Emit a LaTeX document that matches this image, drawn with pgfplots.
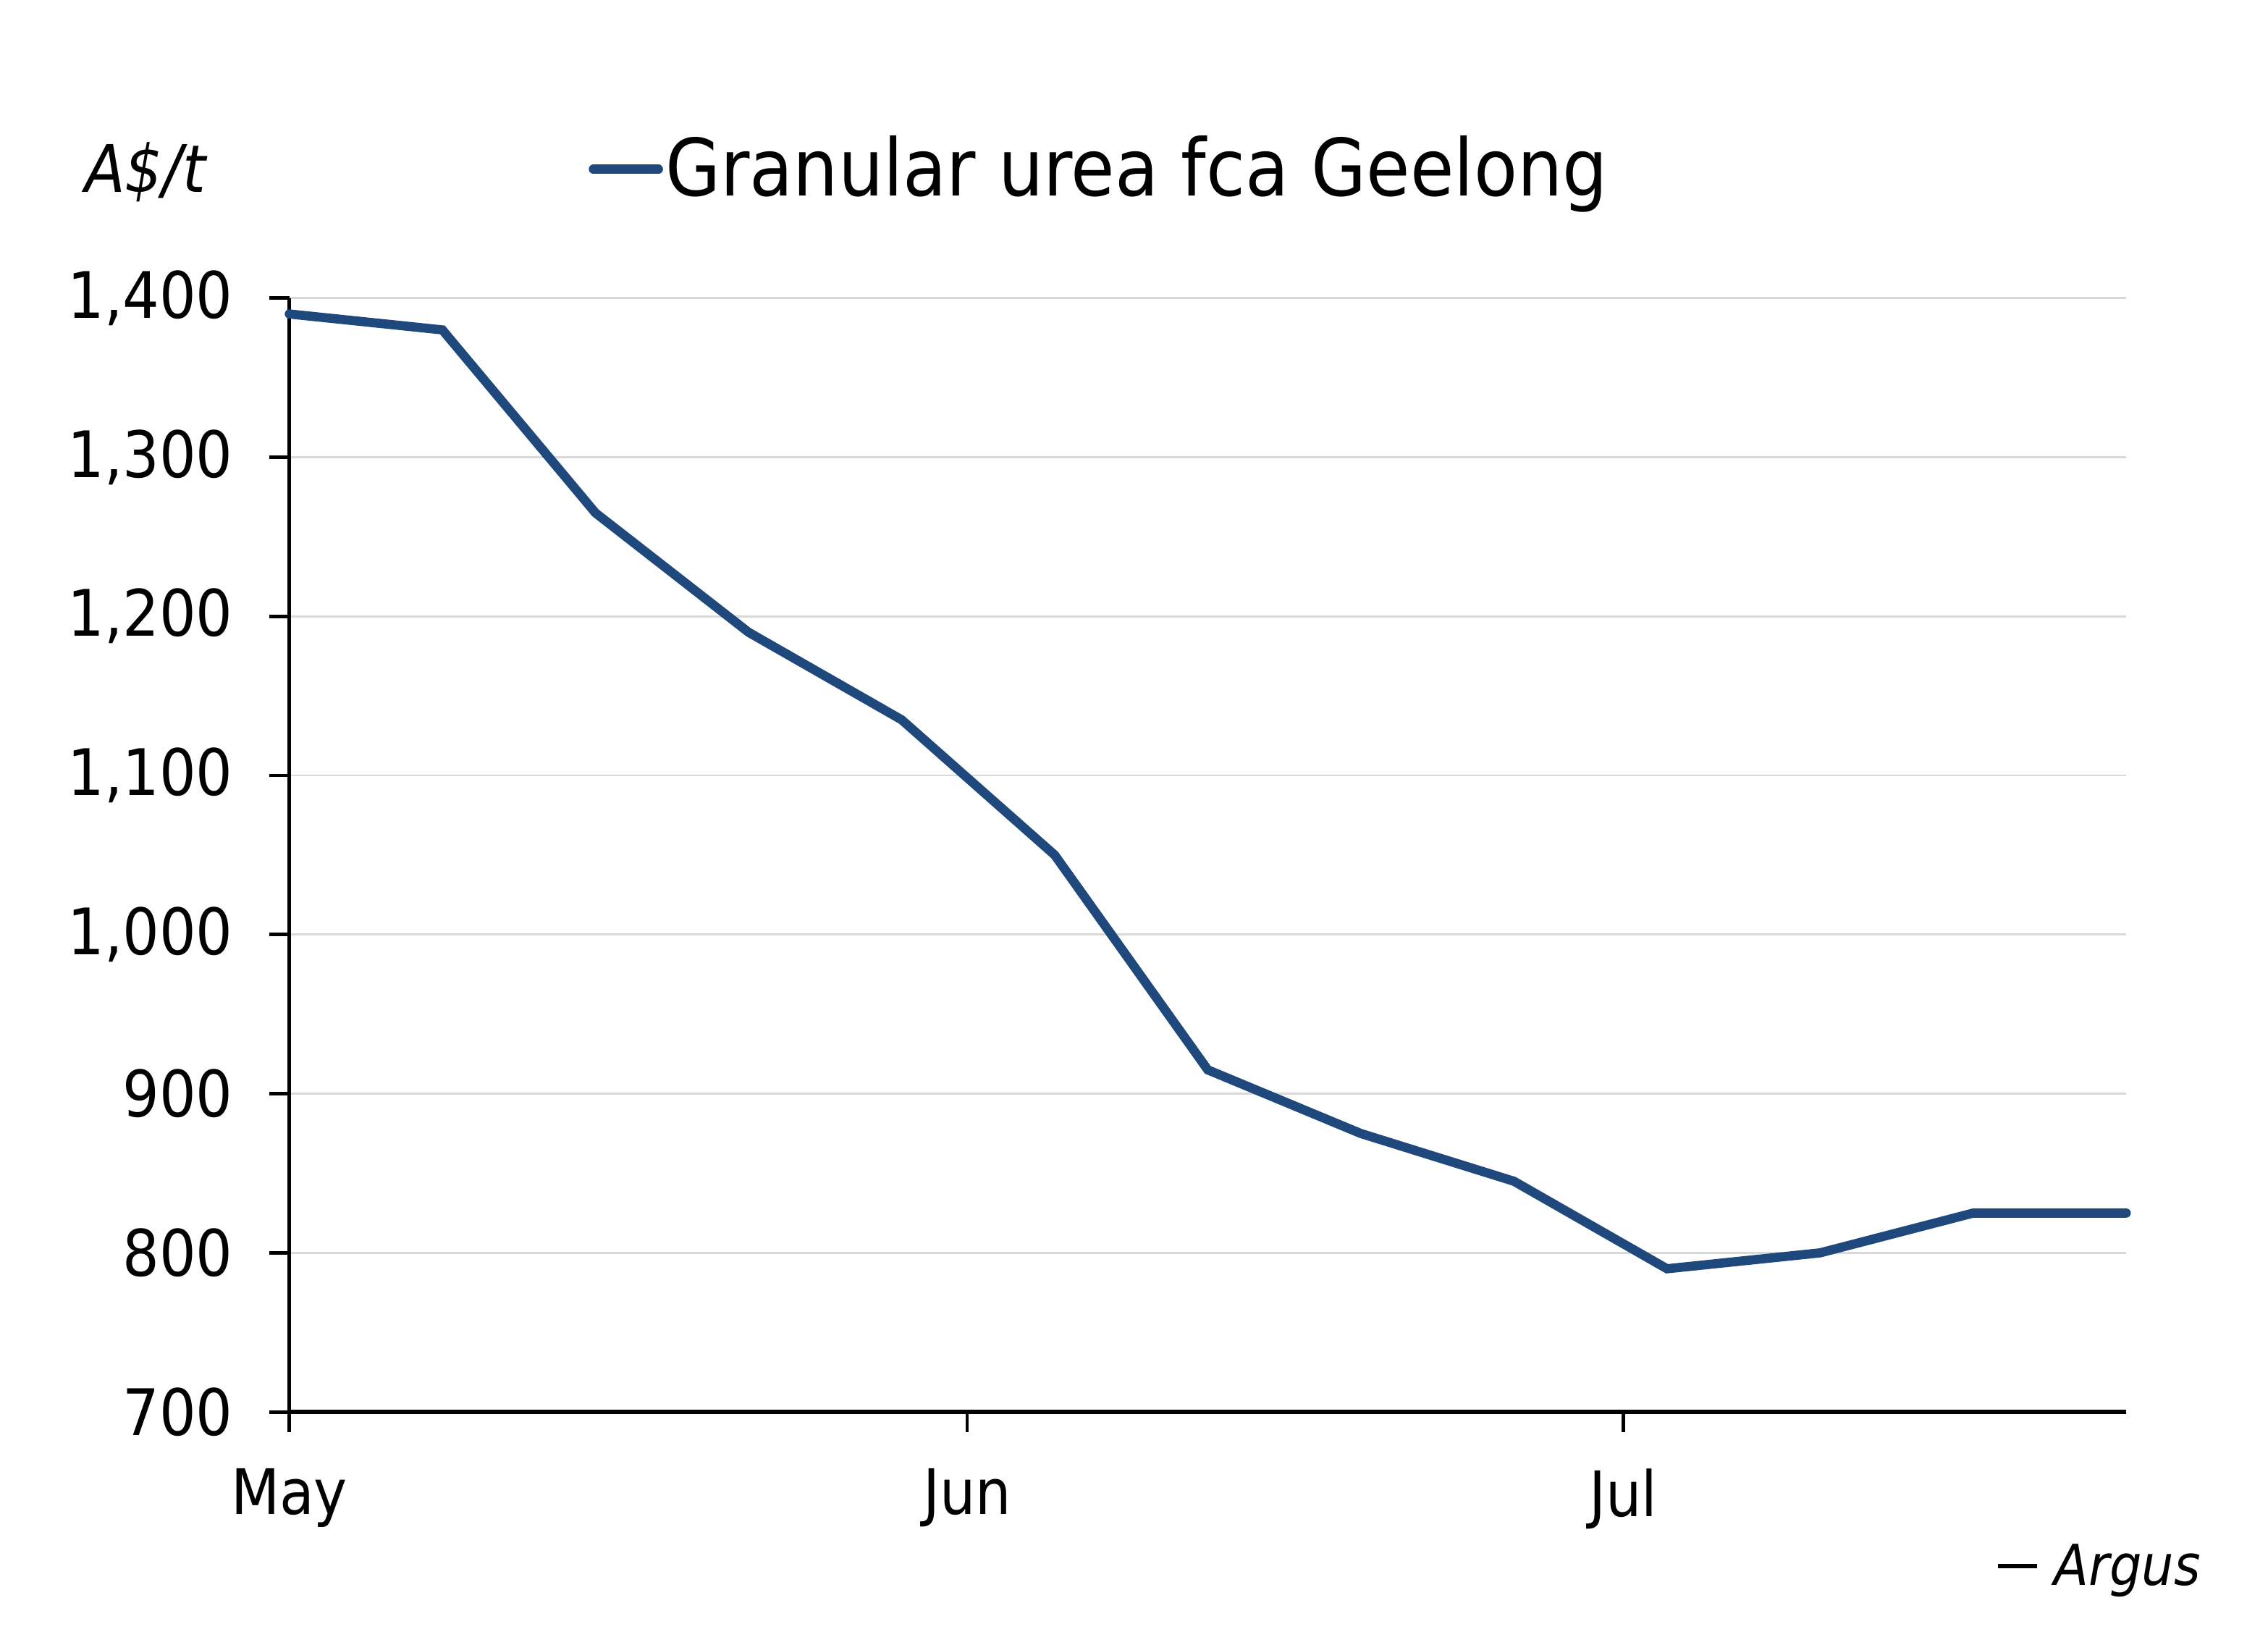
\documentclass[border=0pt]{standalone}
\usepackage{fontspec}
\setmainfont{DejaVu Sans Condensed}
\usepackage{pgfplots}
\pgfplotsset{compat=1.18}
\definecolor{argusblue}{RGB}{31,73,125}
\definecolor{gridgray}{RGB}{217,217,217}
\begin{document}
\begin{tikzpicture}
\path[use as bounding box] (0,0) rectangle (470.4pt,341.1pt);
\begin{axis}[
  scale only axis,
  width=381pt, height=231pt,
  at={(60pt,48.3pt)}, anchor=south west,
  xmin=0, xmax=84, ymin=700, ymax=1400,
  axis x line*=bottom, axis y line*=left,
  x axis line style={line width=1.0pt, -},
  y axis line style={line width=0.8pt, -},
  xtick={0,31,61}, xticklabels={May,Jun,Jul},
  ytick={700,800,...,1400},
  tick align=outside, major tick length=4.2pt,
  tick style={black, line width=0.7pt},
  ymajorgrids, grid style={gridgray, line width=0.4pt},
  /pgf/number format/assume math mode=true,
  /pgf/number format/1000 sep={,},
  tick label style={font=\fontsize{13.3}{15}\selectfont},
  xticklabel style={font=\fontsize{13}{15}\selectfont, yshift=-4pt},
  yticklabel style={xshift=-4pt},
  legend style={at={(0.1625,1.1156)}, anchor=west, draw=none, fill=none,
    inner sep=0pt, font=\fontsize{16.4}{18}\selectfont,
    nodes={inner sep=0.5pt}},
  legend image code/.code={\draw[#1] (0pt,0pt) -- (13.5pt,0pt);},
  clip=false,
]
\addplot[argusblue, line width=1.9pt, line cap=round] coordinates {
 (0,1390) (7,1380) (14,1265) (21,1190) (28,1135) (35,1050) (42,915)
 (49,875) (56,845) (63,790) (70,800) (77,825) (84,825)
};
\addlegendentry{Granular urea fca Geelong}
\end{axis}
\node[anchor=west, inner sep=0pt, font=\itshape\fontsize{13.6}{15}\selectfont] at (17.4pt,305.4pt) {A\$/t};
\node[anchor=base east, inner sep=0pt, font=\itshape\fontsize{11.7}{14}\selectfont] at (456.6pt,12.3pt) {\rule[0.31em]{8pt}{0.8pt}\hspace{3.6pt}Argus};
\end{tikzpicture}
\end{document}
